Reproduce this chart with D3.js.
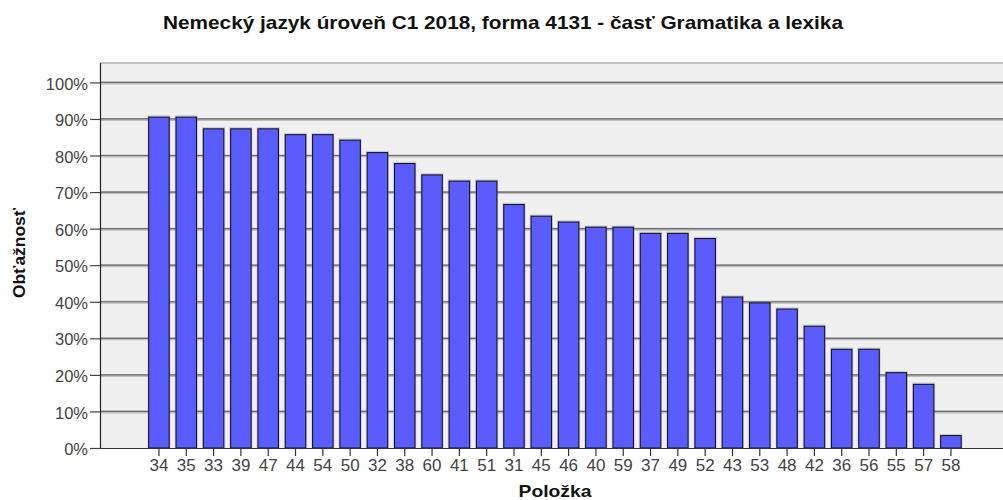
<!DOCTYPE html>
<html>
<head>
<meta charset="utf-8">
<script src="https://cdn.jsdelivr.net/npm/d3@7/dist/d3.min.js"></script>
<style>
  html, body { margin: 0; padding: 0; background: #fff; }
  svg { display: block; }
</style>
</head>
<body>
<script>
// Item numbers in the order shown (sorted by difficulty)
const items = ["34","35","33","39","47","44","54","50","32","38","60","41","51","31","45",
               "46","40","59","37","49","52","43","53","48","42","36","56","55","57","58"];
// Difficulty (share of correct answers), percent
const difficulty = [90.5, 90.5, 87.3, 87.3, 87.3, 85.7, 85.7, 84.2, 80.8, 77.8, 74.7, 73.0, 73.0, 66.6, 63.4,
                    61.8, 60.4, 60.4, 58.7, 58.7, 57.3, 41.3, 39.7, 38.0, 33.3, 27.0, 27.0, 20.6, 17.4, 3.4];
// Y axis ticks, percent
const yTicks = [0, 10, 20, 30, 40, 50, 60, 70, 80, 90, 100];

const W = 1003, H = 500;
const plot = { left: 100, right: 1003, top: 63, bottom: 448 };
const FONT = "Liberation Sans, Arial, sans-serif";

const svg = d3.select("body").append("svg").attr("width", W).attr("height", H);

const y = d3.scaleLinear().domain([0, 100]).range([plot.bottom, 82.4]);
const x = d3.scaleBand().domain(items)
  .range([145.3, 964.6]).paddingInner(0.25).paddingOuter(0.125);

// Plot background
svg.append("rect")
  .attr("x", plot.left).attr("y", plot.top)
  .attr("width", plot.right - plot.left).attr("height", plot.bottom - plot.top)
  .attr("fill", "#f0f0f0");

// Top frame edge
svg.append("line")
  .attr("x1", plot.left).attr("x2", plot.right)
  .attr("y1", plot.top).attr("y2", plot.top)
  .attr("stroke", "#c4c4c4").attr("stroke-width", 2);

// Gridlines (soft halo + dark core)
const grid = svg.append("g");
grid.selectAll("line.halo").data(yTicks.filter(d => d > 0)).join("line")
  .attr("class", "halo")
  .attr("x1", plot.left).attr("x2", plot.right)
  .attr("y1", d => y(d) + 0.5).attr("y2", d => y(d) + 0.5)
  .attr("stroke", "#bdbdbd").attr("stroke-width", 3);
grid.selectAll("line.core").data(yTicks.filter(d => d > 0)).join("line")
  .attr("class", "core")
  .attr("x1", plot.left).attr("x2", plot.right)
  .attr("y1", d => y(d)).attr("y2", d => y(d))
  .attr("stroke", "#6e6e6e").attr("stroke-width", 1.2);

// Bars with a faint shadow
const bars = svg.append("g");
bars.selectAll("rect.shadow").data(items).join("rect")
  .attr("class", "shadow")
  .attr("x", d => x(d) - 0.5)
  .attr("y", (d, i) => y(difficulty[i]) - 1)
  .attr("width", x.bandwidth() + 1)
  .attr("height", (d, i) => y(0) - y(difficulty[i]) + 1)
  .attr("fill", "none").attr("stroke", "#8a8a8a").attr("stroke-width", 1.6).attr("opacity", 0.35);
bars.selectAll("rect.bar").data(items).join("rect")
  .attr("class", "bar")
  .attr("x", d => x(d))
  .attr("y", (d, i) => y(difficulty[i]))
  .attr("width", x.bandwidth())
  .attr("height", (d, i) => y(0) - y(difficulty[i]))
  .attr("fill", "#5a5cff").attr("stroke", "#15152a").attr("stroke-width", 1.1);

// Y axis
const yAxis = svg.append("g").attr("transform", `translate(${plot.left},0)`)
  .call(d3.axisLeft(y).tickValues(yTicks).tickFormat(d => d + "%").tickSize(10).tickPadding(2));
yAxis.select(".domain").attr("stroke", "#222").attr("stroke-width", 1.2)
  .attr("d", `M0.5,${plot.top}V${plot.bottom}`);
yAxis.selectAll(".tick line").attr("stroke", "#444").attr("stroke-width", 1.2);
yAxis.selectAll(".tick text")
  .attr("fill", "#444").attr("font-family", FONT).attr("font-size", 16.5).attr("dy", "0.4em");

// X axis
const xAxis = svg.append("g").attr("transform", `translate(0,${plot.bottom})`)
  .call(d3.axisBottom(x).tickSize(8).tickPadding(3));
xAxis.select(".domain").attr("stroke", "#333").attr("stroke-width", 1.2)
  .attr("d", `M${plot.left},0.5H${plot.right}`);
xAxis.selectAll(".tick line").attr("stroke", "#333").attr("stroke-width", 1.2);
xAxis.selectAll(".tick text")
  .attr("fill", "#444").attr("font-family", FONT).attr("font-size", 17);

// Title
svg.append("text")
  .attr("x", 503).attr("y", 29).attr("text-anchor", "middle")
  .attr("font-family", FONT).attr("font-weight", "bold")
  .attr("font-size", 18.5).attr("fill", "#111")
  .attr("textLength", 680).attr("lengthAdjust", "spacingAndGlyphs")
  .text("Nemecký jazyk úroveň C1 2018, forma 4131 - časť Gramatika a lexika");

// Axis titles
svg.append("text")
  .attr("x", 555).attr("y", 497).attr("text-anchor", "middle")
  .attr("font-family", FONT).attr("font-weight", "bold")
  .attr("font-size", 16.5).attr("fill", "#111")
  .attr("textLength", 73).attr("lengthAdjust", "spacingAndGlyphs")
  .text("Položka");
svg.append("text")
  .attr("transform", "translate(25,253) rotate(-90)").attr("text-anchor", "middle")
  .attr("font-family", FONT).attr("font-weight", "bold")
  .attr("font-size", 16.5).attr("fill", "#111")
  .attr("textLength", 90).attr("lengthAdjust", "spacingAndGlyphs")
  .text("Obťažnosť");
</script>
</body>
</html>
